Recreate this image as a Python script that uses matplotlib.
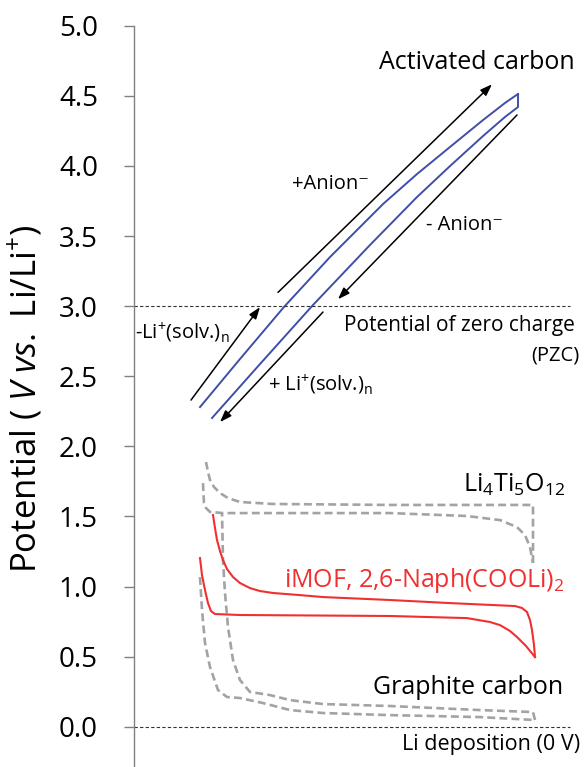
import matplotlib
matplotlib.use("Agg")
import matplotlib.pyplot as plt

plt.rcParams["font.family"] = ["Open Sans", "DejaVu Sans"]
plt.rcParams["mathtext.fontset"] = "custom"
plt.rcParams["mathtext.rm"] = "Open Sans"
plt.rcParams["mathtext.it"] = "Open Sans:italic"
plt.rcParams["mathtext.bf"] = "Open Sans:bold"

# capacity in arbitrary units, potential in V vs Li/Li+
ac_charge_x = [66, 106, 150, 196, 249, 283, 316, 349, 371, 384]
ac_charge_y = [2.280, 2.623, 2.994, 3.350, 3.728, 3.942, 4.135, 4.327, 4.449, 4.513]
ac_dis_x = [384, 384, 371, 349, 316, 283, 236, 179, 126, 78]
ac_dis_y = [4.513, 4.420, 4.349, 4.213, 3.999, 3.778, 3.436, 3.008, 2.587, 2.202]

mof_dis_x = [66, 68, 71, 74, 77, 81, 106, 256, 333, 356, 366, 376, 383, 392, 401]
mof_dis_y = [1.203, 1.082, 0.975, 0.882, 0.825, 0.804, 0.797, 0.790, 0.775, 0.747,
             0.725, 0.683, 0.640, 0.576, 0.497]
mof_ch_x = [401, 400, 398, 396, 393, 388, 381, 316, 256, 189, 166, 139, 126, 116,
            106, 99, 93, 89, 86, 83, 81, 79]
mof_ch_y = [0.497, 0.583, 0.690, 0.761, 0.818, 0.847, 0.861, 0.882, 0.904, 0.925,
            0.939, 0.954, 0.968, 0.989, 1.025, 1.068, 1.125, 1.189, 1.253, 1.332,
            1.417, 1.510]

lto_dis_x = [69, 69.5, 70, 72, 76, 89, 256, 333, 366, 383, 391, 396, 399]
lto_dis_y = [1.738, 1.653, 1.596, 1.560, 1.532, 1.524, 1.524, 1.503, 1.474, 1.424,
             1.367, 1.282, 1.168]
lto_ch_x = [399, 399, 256, 139, 106, 94, 86, 80, 76, 74, 72]
lto_ch_y = [1.168, 1.582, 1.582, 1.589, 1.603, 1.631, 1.667, 1.710, 1.760, 1.817, 1.888]

gr_dis_x = [66, 68, 71, 76, 84, 93, 106, 129, 156, 189, 256, 346, 401]
gr_dis_y = [1.068, 0.832, 0.597, 0.426, 0.262, 0.212, 0.205, 0.169, 0.119, 0.098,
            0.083, 0.069, 0.048]
gr_ch_x = [401, 399, 346, 256, 189, 156, 136, 116, 106, 99, 94, 91, 89, 88]
gr_ch_y = [0.048, 0.105, 0.119, 0.148, 0.162, 0.190, 0.226, 0.248, 0.333, 0.476,
           0.711, 0.953, 1.189, 1.524]

# ion flux arrows: (start x, start y, end x, end y)
arrows = [
    (144, 3.098, 358, 4.582),
    (383, 4.363, 204, 3.049),
    (57, 2.330, 126, 2.993),
    (189, 2.958, 86, 2.173),
]

yticks = [0.0, 0.5, 1.0, 1.5, 2.0, 2.5, 3.0, 3.5, 4.0, 4.5, 5.0]

fig = plt.figure(figsize=(5.84, 7.67), dpi=100)
ax = fig.add_axes([134 / 584, 0, 450 / 584, 1 - 25.7 / 767])
ax.set_xlim(0, 450)
ax.set_ylim(-0.287, 5.0)

gray = "#a3a3a3"
dash = (0, (3, 1.6))
ax.plot(lto_dis_x, lto_dis_y, color=gray, lw=1.9, ls=dash)
ax.plot(lto_ch_x, lto_ch_y, color=gray, lw=1.9, ls=dash)
ax.plot(gr_dis_x, gr_dis_y, color=gray, lw=1.9, ls=dash)
ax.plot(gr_ch_x, gr_ch_y, color=gray, lw=1.9, ls=dash)

red = "#f03030"
ax.plot(mof_dis_x, mof_dis_y, color=red, lw=1.5)
ax.plot(mof_ch_x, mof_ch_y, color=red, lw=1.5)

blue = "#3f4fa8"
ax.plot(ac_charge_x, ac_charge_y, color=blue, lw=1.4)
ax.plot(ac_dis_x, ac_dis_y, color=blue, lw=1.4)

ax.axhline(3.0, xmax=436 / 450, color="#333333", lw=0.8, ls=(0, (3, 2)))
ax.axhline(0.0, xmax=436 / 450, color="#333333", lw=0.8, ls=(0, (3, 2)))

for x0, y0, x1, y1 in arrows:
    ax.annotate("", xy=(x1, y1), xytext=(x0, y0),
                arrowprops=dict(arrowstyle="-|>,head_length=0.7,head_width=0.25",
                                color="black", lw=1.1, shrinkA=0, shrinkB=0))

fs = 14.5
big = 18
ax.text(441, 4.74, "Activated carbon", fontsize=big, ha="right", va="center")
ax.text(441, 2.865, "Potential of zero charge", fontsize=15, ha="right", va="center")
ax.text(446, 2.651, "(PZC)", fontsize=fs, ha="right", va="center")
ax.text(196, 3.87, "+Anion\u207b", fontsize=fs, ha="center", va="center")
ax.text(331, 3.577, "- Anion\u207b", fontsize=fs, ha="center", va="center")
ax.text(1, 2.808, r"-Li$^{+}$(solv.)$_{\mathrm{n}}$", fontsize=fs, ha="left", va="center")
ax.text(134, 2.437, r"+ Li$^{+}$(solv.)$_{\mathrm{n}}$", fontsize=fs, ha="left", va="center")
ax.text(431, 1.724, r"Li$_{4}$Ti$_{5}$O$_{12}$", fontsize=big, ha="right", va="center")
ax.text(431, 1.046, r"iMOF, 2,6-Naph(COOLi)$_{2}$", fontsize=big, ha="right", va="center",
        color=red)
ax.text(429, 0.283, "Graphite carbon", fontsize=big, ha="right", va="center")
ax.text(446, -0.13, "Li deposition (0 V)", fontsize=15.5, ha="right", va="center")

for side in ["top", "right", "bottom"]:
    ax.spines[side].set_visible(False)
ax.spines["left"].set_color("#808080")
ax.spines["left"].set_linewidth(1.0)
ax.set_xticks([])
ax.set_yticks(yticks)
ax.set_yticklabels([f"{v:.1f}" for v in yticks])
ax.tick_params(axis="y", direction="out", length=7, width=1.0, color="#808080",
               labelsize=20, pad=19)

fig.text(25 / 584, 1 - 398.5 / 767,
         r"Potential ( $\mathit{V}$ $\mathit{vs.}$ Li/Li$^{+}$)",
         fontsize=25, rotation=90, ha="center", va="center")

fig.savefig("out.png", dpi=100)
